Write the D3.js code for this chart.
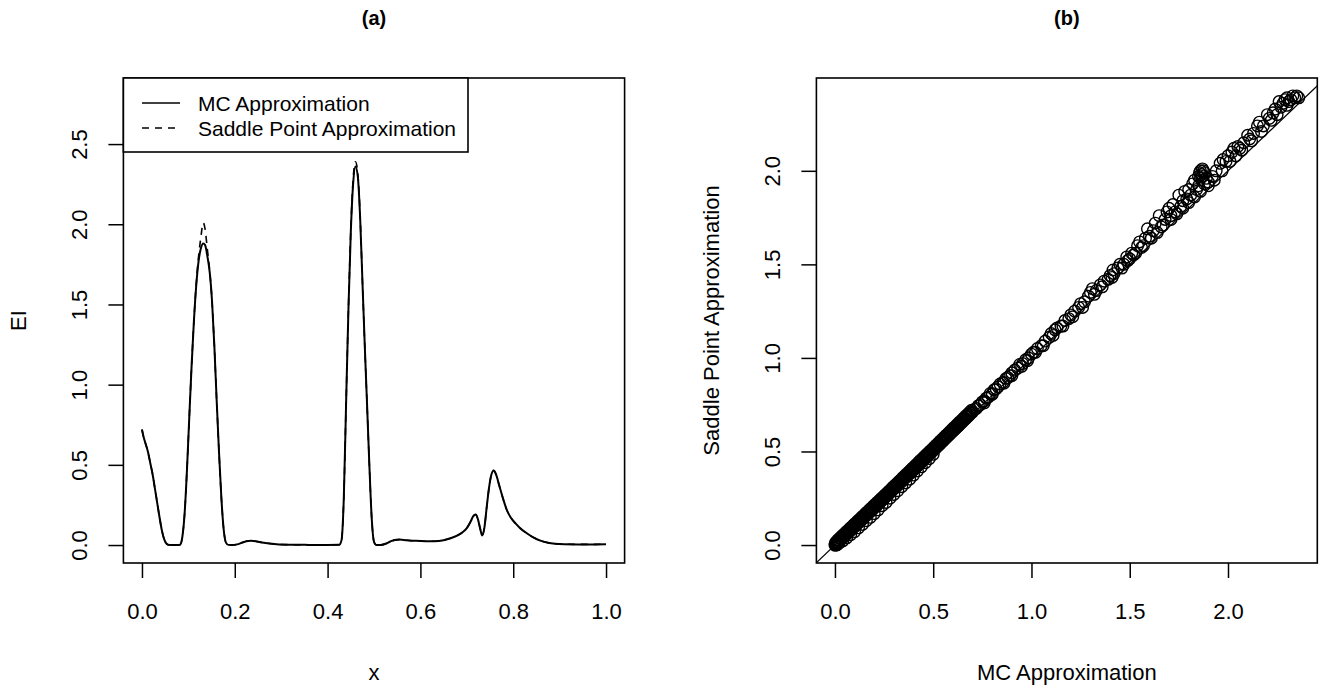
<!DOCTYPE html>
<html>
<head>
<meta charset="utf-8">
<script src="https://cdn.jsdelivr.net/npm/d3@7"></script>
<style>
  body { margin: 0; background: #fff; }
  svg { display: block; font-family: "Liberation Sans", Arial, Helvetica, sans-serif; }
</style>
</head>
<body>
<svg id="chart" width="1323" height="688"></svg>
<script>
// ---------------- Data: panel (a) ----------------
const xGrid = [0,0.003,0.008,0.013,0.018,0.023,0.028,0.033,0.038,0.043,0.048,0.053,0.058,0.065,0.075,
  0.082,0.087,0.092,0.097,0.102,0.107,0.112,0.117,0.122,0.127,0.132,0.136,0.141,0.146,0.151,0.156,0.161,0.166,0.171,0.176,0.181,0.186,
  0.195,0.205,0.215,0.225,0.235,0.245,0.255,0.27,0.29,0.32,0.36,0.4,0.425,
  0.43,0.435,0.44,0.445,0.45,0.455,0.46,0.465,0.47,0.475,0.48,0.485,0.49,0.495,0.5,0.505,
  0.515,0.525,0.535,0.545,0.555,0.57,0.59,0.61,0.63,0.65,0.665,0.68,0.69,0.7,0.708,0.714,0.719,0.724,0.729,0.733,
  0.738,0.743,0.748,0.753,0.758,0.763,0.77,0.778,0.786,0.795,0.805,0.815,0.83,0.845,0.86,0.875,0.89,0.91,0.94,0.97,1.0];

const mcEI = [0.72,0.68,0.63,0.58,0.51,0.44,0.35,0.26,0.17,0.09,0.035,0.008,0.001,0,0,
  0.002,0.05,0.2,0.47,0.8,1.12,1.4,1.62,1.77,1.85,1.88,1.87,1.8,1.70,1.52,1.24,0.9,0.58,0.3,0.1,0.015,0.001,
  0,0.004,0.014,0.024,0.027,0.024,0.018,0.011,0.005,0.002,0.001,0.001,0.002,
  0.03,0.3,0.9,1.48,1.95,2.25,2.36,2.3,2.05,1.65,1.25,0.88,0.5,0.17,0.02,0.001,
  0.001,0.008,0.022,0.032,0.034,0.03,0.026,0.024,0.024,0.03,0.042,0.06,0.078,0.105,0.145,0.18,0.19,0.16,0.1,0.06,
  0.11,0.24,0.36,0.44,0.465,0.44,0.37,0.29,0.22,0.17,0.135,0.105,0.072,0.045,0.026,0.014,0.008,0.005,0.004,0.004,0.005];

const spEI = [0.72,0.68,0.63,0.58,0.51,0.44,0.35,0.26,0.17,0.09,0.035,0.008,0.001,0,0,
  0.002,0.05,0.2,0.47,0.8,1.12,1.4,1.63,1.80,1.92,2.01,1.97,1.84,1.71,1.52,1.24,0.9,0.58,0.3,0.1,0.015,0.001,
  0,0.004,0.014,0.024,0.027,0.024,0.018,0.011,0.005,0.002,0.001,0.001,0.002,
  0.03,0.3,0.9,1.48,1.96,2.28,2.39,2.32,2.06,1.65,1.25,0.88,0.5,0.17,0.02,0.001,
  0.001,0.008,0.022,0.032,0.034,0.03,0.026,0.024,0.024,0.03,0.042,0.06,0.078,0.105,0.145,0.18,0.19,0.16,0.1,0.06,
  0.11,0.24,0.36,0.44,0.465,0.44,0.37,0.29,0.22,0.17,0.135,0.105,0.072,0.045,0.026,0.014,0.008,0.005,0.004,0.004,0.005];

const xTicksA = [0, 0.2, 0.4, 0.6, 0.8, 1.0];
const yTicksA = [0, 0.5, 1.0, 1.5, 2.0, 2.5];
const legendLabels = ["MC Approximation", "Saddle Point Approximation"];

// ---------------- Data: panel (b) ----------------
// dense band (small EI values)
const mcDense = [0,0.005,0.01,0.015,0.02,0.025,0.03,0.035,0.04,0.045,
  0.05,0.055,0.06,0.065,0.07,0.075,0.08,0.085,0.09,0.095,
  0.1,0.105,0.11,0.115,0.12,0.125,0.13,0.135,0.14,0.145,
  0.15,0.155,0.16,0.165,0.17,0.175,0.18,0.185,0.19,0.195,
  0.2,0.205,0.21,0.215,0.22,0.225,0.23,0.235,0.24,0.245,
  0.25,0.255,0.26,0.265,0.27,0.275,0.28,0.285,0.29,0.295,
  0.3,0.305,0.31,0.315,0.32,0.325,0.33,0.335,0.34,0.345,
  0.35,0.355,0.36,0.365,0.37,0.375,0.38,0.385,0.39,0.395,
  0.4,0.405,0.41,0.415,0.42,0.425,0.43,0.435,0.44,0.445,
  0.45,0.455,0.46,0.465,0.47,0.475,0.48,0.485,0.49,0.495,
  0.5,0.505,0.51,0.515,0.52,0.525,0.53,0.535,0.54,0.545,
  0.55,0.555,0.56,0.565,0.57,0.575,0.58,0.585,0.59,0.595,
  0.6,0.605,0.61,0.615,0.62,0.625,0.63,0.635,0.64,0.645,
  0.65,0.655,0.66,0.665,0.67,0.675,0.68,0.685,0.69,0.695,0.7,
  0.02,0.04,0.06,0.08,0.1,0.12,0.14,0.16,0.18,0.2,0.22,0.24,0.26,0.28,0.3,0.32,0.34,0.36,0.38,0.4,0.42,0.44,0.46,0.48,0.5,
  0.005,0.015,0.025,0.035,0.045,0.055,0.065,0.075,0.085,0.095,
  0.105,0.115,0.125,0.135,0.145,0.155,0.165,0.175,0.185,0.195,
  0.205,0.215,0.225,0.235,0.245,0.255,0.265,0.275,0.285,0.295,
  0.305,0.315,0.325,0.335,0.345,0.355,0.365,0.375,0.385,0.395,
  0.405,0.415,0.425,0.435,0.445,0.455,0.465,0.475,0.485,0.495,
  0.505,0.515,0.525,0.535,0.545,0.555,0.565,0.575,0.585,0.595,
  0.605,0.615,0.625,0.635,0.645,0.655,0.665,0.675,0.685,0.695,
  0.003,0.008,0.012,0.002,0.018,0.01];
const spDense = [0,0.004,0.011,0.014,0.02,0.024,0.031,0.034,0.04,0.044,
  0.051,0.054,0.06,0.064,0.071,0.074,0.08,0.084,0.091,0.094,
  0.1,0.104,0.111,0.114,0.12,0.124,0.131,0.134,0.14,0.144,
  0.151,0.154,0.16,0.164,0.171,0.174,0.18,0.184,0.191,0.194,
  0.2,0.205,0.211,0.215,0.221,0.224,0.231,0.235,0.241,0.245,
  0.251,0.255,0.261,0.265,0.271,0.275,0.281,0.285,0.292,0.296,
  0.302,0.306,0.312,0.316,0.322,0.326,0.332,0.336,0.342,0.347,
  0.352,0.357,0.363,0.367,0.373,0.377,0.383,0.387,0.393,0.398,
  0.403,0.408,0.414,0.418,0.424,0.428,0.434,0.438,0.444,0.449,
  0.455,0.459,0.465,0.469,0.475,0.48,0.486,0.49,0.496,0.501,
  0.506,0.51,0.516,0.521,0.527,0.531,0.537,0.541,0.547,0.552,
  0.557,0.562,0.568,0.572,0.578,0.583,0.589,0.593,0.599,0.604,
  0.609,0.614,0.619,0.624,0.63,0.634,0.64,0.645,0.651,0.655,
  0.661,0.666,0.671,0.676,0.682,0.686,0.692,0.697,0.703,0.707,0.712,
  0.01,0.022,0.038,0.055,0.072,0.092,0.11,0.13,0.148,0.168,0.188,0.21,0.228,0.25,0.27,0.29,0.312,0.332,0.352,0.374,0.396,0.418,0.44,0.462,0.485,
  0.016,0.028,0.037,0.048,0.057,0.068,0.077,0.088,0.097,0.108,
  0.117,0.128,0.137,0.148,0.157,0.168,0.177,0.188,0.197,0.208,
  0.218,0.228,0.238,0.248,0.258,0.268,0.278,0.288,0.298,0.309,
  0.319,0.329,0.339,0.349,0.36,0.37,0.38,0.39,0.401,0.411,
  0.421,0.431,0.442,0.452,0.462,0.472,0.483,0.493,0.503,0.513,
  0.524,0.534,0.544,0.555,0.565,0.575,0.586,0.596,0.606,0.617,
  0.627,0.637,0.648,0.658,0.668,0.679,0.689,0.699,0.709,0.72,
  0.0,0.002,0.006,0.008,0.01,0.001];
// sparse part (larger EI values)
const mcSparse = [0.71,0.72,0.73,0.74,0.75,0.76,0.77,0.78,0.79,0.8,
  0.81,0.82,0.83,0.84,0.855,0.87,0.88,0.89,0.9,0.915,
  0.93,0.94,0.955,0.97,0.985,1.0,1.01,1.03,1.05,1.07,
  1.09,1.1,1.12,1.13,1.15,1.17,1.19,1.2,1.22,1.24,
  1.25,1.27,1.29,1.3,1.31,1.33,1.35,1.37,1.39,1.4,
  1.415,1.42,1.44,1.45,1.47,1.485,1.49,1.51,1.52,1.54,
  1.55,1.56,1.58,1.59,1.6,1.62,1.63,1.65,1.66,1.68,
  1.69,1.7,1.71,1.72,1.73,1.75,1.76,1.77,1.78,1.79,
  1.8,1.81,1.82,1.83,1.84,1.85,1.855,1.86,1.865,1.87,
  1.875,1.88,1.86,1.87,1.85,1.86,1.88,1.89,1.9,1.92,
  1.94,1.96,1.975,1.99,2.0,2.02,2.03,2.05,2.06,2.08,
  2.1,2.11,2.13,2.15,2.16,2.18,2.2,2.21,2.23,2.24,
  2.26,2.27,2.28,2.29,2.3,2.31,2.32,2.33,2.34,2.35,2.36,
  0.76,0.8,0.86,0.9,0.95,0.98,1.02,1.06,1.11,1.16,1.21,1.26,1.32,1.36,1.41,1.46,1.5,1.53,1.57,
  1.61,1.64,1.67,1.71,1.74,1.77,1.8,1.83,1.9,1.93,1.97,2.01,2.04,2.07,2.12,2.17,2.22,2.25,2.3];
const spSparse = [0.725,0.73,0.745,0.75,0.765,0.77,0.785,0.79,0.81,0.81,
  0.83,0.835,0.845,0.86,0.87,0.89,0.895,0.905,0.92,0.935,
  0.945,0.965,0.97,0.99,1.0,1.02,1.03,1.05,1.065,1.09,
  1.11,1.13,1.15,1.16,1.17,1.2,1.21,1.23,1.25,1.27,
  1.29,1.3,1.33,1.35,1.37,1.36,1.39,1.41,1.42,1.44,
  1.47,1.45,1.48,1.5,1.5,1.54,1.52,1.56,1.55,1.6,
  1.62,1.59,1.64,1.69,1.65,1.68,1.72,1.76,1.7,1.74,
  1.78,1.8,1.76,1.82,1.78,1.87,1.81,1.84,1.89,1.85,
  1.9,1.87,1.93,1.95,1.9,1.97,1.99,2.0,1.98,2.01,
  2.0,1.99,1.96,1.97,1.92,1.89,1.93,1.96,1.94,1.97,
  2.0,2.04,2.06,2.05,2.08,2.1,2.12,2.13,2.12,2.15,
  2.19,2.17,2.2,2.24,2.26,2.24,2.3,2.28,2.31,2.33,
  2.37,2.34,2.36,2.38,2.39,2.37,2.38,2.4,2.39,2.4,2.39,
  0.76,0.805,0.865,0.905,0.955,0.985,1.03,1.065,1.12,1.17,1.22,1.27,1.34,1.38,1.43,1.48,1.53,1.56,1.6,
  1.64,1.67,1.71,1.74,1.77,1.8,1.83,1.86,1.92,1.95,2.0,2.05,2.08,2.11,2.16,2.21,2.27,2.3,2.35];

const xTicksB = [0, 0.5, 1.0, 1.5, 2.0];
const yTicksB = [0, 0.5, 1.0, 1.5, 2.0];

// ---------------- Drawing ----------------
const svg = d3.select("#chart");
svg.append("rect").attr("width", 1323).attr("height", 688).attr("fill", "#fff");
const FS = 22;
const fmt = d3.format(".1f");

function drawFrame(box, x, y, xTicks, yTicks, title, xlab, ylab) {
  const g = svg.append("g");
  const ax = g.append("g").attr("transform", `translate(0,${box.bottom})`)
    .call(d3.axisBottom(x).tickValues(xTicks).tickSize(15).tickFormat(fmt));
  ax.select(".domain").remove();
  ax.selectAll("line").attr("stroke", "#000").attr("stroke-width", 1.5);
  ax.selectAll("text").attr("y", 48).attr("dy", "0.36em").attr("font-size", FS)
    .attr("font-family", "Liberation Sans, Arial, sans-serif").attr("fill", "#000");
  const ay = g.append("g").attr("transform", `translate(${box.left},0)`)
    .call(d3.axisLeft(y).tickValues(yTicks).tickSize(15).tickFormat(fmt));
  ay.select(".domain").remove();
  ay.selectAll("line").attr("stroke", "#000").attr("stroke-width", 1.5);
  ay.selectAll("text").attr("x", 0).attr("y", -44).attr("dy", "0.36em")
    .attr("text-anchor", "middle").attr("transform", "rotate(-90)")
    .attr("font-size", FS).attr("font-family", "Liberation Sans, Arial, sans-serif").attr("fill", "#000");
  const cx = (box.left + box.right) / 2;
  const cy = (box.top + box.bottom) / 2;
  g.append("text").attr("x", cx).attr("y", 25).attr("text-anchor", "middle")
    .attr("font-weight", "bold").attr("font-size", 20).text(title);
  g.append("text").attr("x", cx).attr("y", 680).attr("text-anchor", "middle")
    .attr("font-size", FS).text(xlab);
  g.append("text").attr("transform", `translate(${box.left - 97},${cy}) rotate(-90)`)
    .attr("text-anchor", "middle").attr("font-size", FS).text(ylab);
  return g;
}

function drawBox(box) {
  svg.append("rect").attr("x", box.left).attr("y", box.top)
    .attr("width", box.right - box.left).attr("height", box.bottom - box.top)
    .attr("fill", "none").attr("stroke", "#000").attr("stroke-width", 1.6);
}

// Panel (a)
const boxA = { left: 123.4, right: 624.6, top: 78, bottom: 563 };
const xA = d3.scaleLinear().domain([-0.04, 1.04]).range([boxA.left, boxA.right]);
const yA = d3.scaleLinear().domain([-0.112, 2.912]).range([boxA.bottom, boxA.top]);
drawFrame(boxA, xA, yA, xTicksA, yTicksA, "(a)", "x", "EI");

const lineA = (vals) => d3.line().x((d, i) => xA(xGrid[i])).y(d => yA(d)).curve(d3.curveMonotoneX)(vals);
svg.append("path").attr("d", lineA(mcEI)).attr("fill", "none").attr("stroke", "#000").attr("stroke-width", 2);
svg.append("path").attr("d", lineA(spEI)).attr("fill", "none").attr("stroke", "#000").attr("stroke-width", 1.6)
  .attr("stroke-dasharray", "7,6");
drawBox(boxA);

// Legend
const leg = svg.append("g");
leg.append("rect").attr("x", boxA.left).attr("y", boxA.top).attr("width", 468 - boxA.left).attr("height", 74)
  .attr("fill", "#fff").attr("stroke", "#000").attr("stroke-width", 1.6);
legendLabels.forEach((lab, i) => {
  const yy = 103 + i * 25;
  leg.append("line").attr("x1", 142).attr("x2", 180).attr("y1", yy).attr("y2", yy)
    .attr("stroke", "#000").attr("stroke-width", 1.6).attr("stroke-dasharray", i === 0 ? null : "7,6");
  leg.append("text").attr("x", 198).attr("y", yy).attr("dy", "0.36em").attr("font-size", 21).text(lab);
});

// Panel (b)
const boxB = { left: 816.4, right: 1317.3, top: 78, bottom: 563 };
const xB = d3.scaleLinear().domain([-0.0944, 2.4544]).range([boxB.left, boxB.right]);
const yB = d3.scaleLinear().domain([-0.096, 2.496]).range([boxB.bottom, boxB.top]);
drawFrame(boxB, xB, yB, xTicksB, yTicksB, "(b)", "MC Approximation", "Saddle Point Approximation");

svg.append("defs").append("clipPath").attr("id", "clipB").append("rect")
  .attr("x", boxB.left).attr("y", boxB.top).attr("width", boxB.right - boxB.left).attr("height", boxB.bottom - boxB.top);
const diagDom = [-0.2, 2.6];
svg.append("line").attr("clip-path", "url(#clipB)")
  .attr("x1", xB(diagDom[0])).attr("y1", yB(diagDom[0])).attr("x2", xB(diagDom[1])).attr("y2", yB(diagDom[1]))
  .attr("stroke", "#000").attr("stroke-width", 1.2);

const pts = mcDense.map((m, i) => [m, spDense[i]]).concat(mcSparse.map((m, i) => [m, spSparse[i]]));
svg.append("g").selectAll("circle").data(pts).join("circle")
  .attr("cx", d => xB(d[0])).attr("cy", d => yB(d[1])).attr("r", 5.8)
  .attr("fill", "none").attr("stroke", "#000").attr("stroke-width", 1.4);
drawBox(boxB);
</script>
</body>
</html>
